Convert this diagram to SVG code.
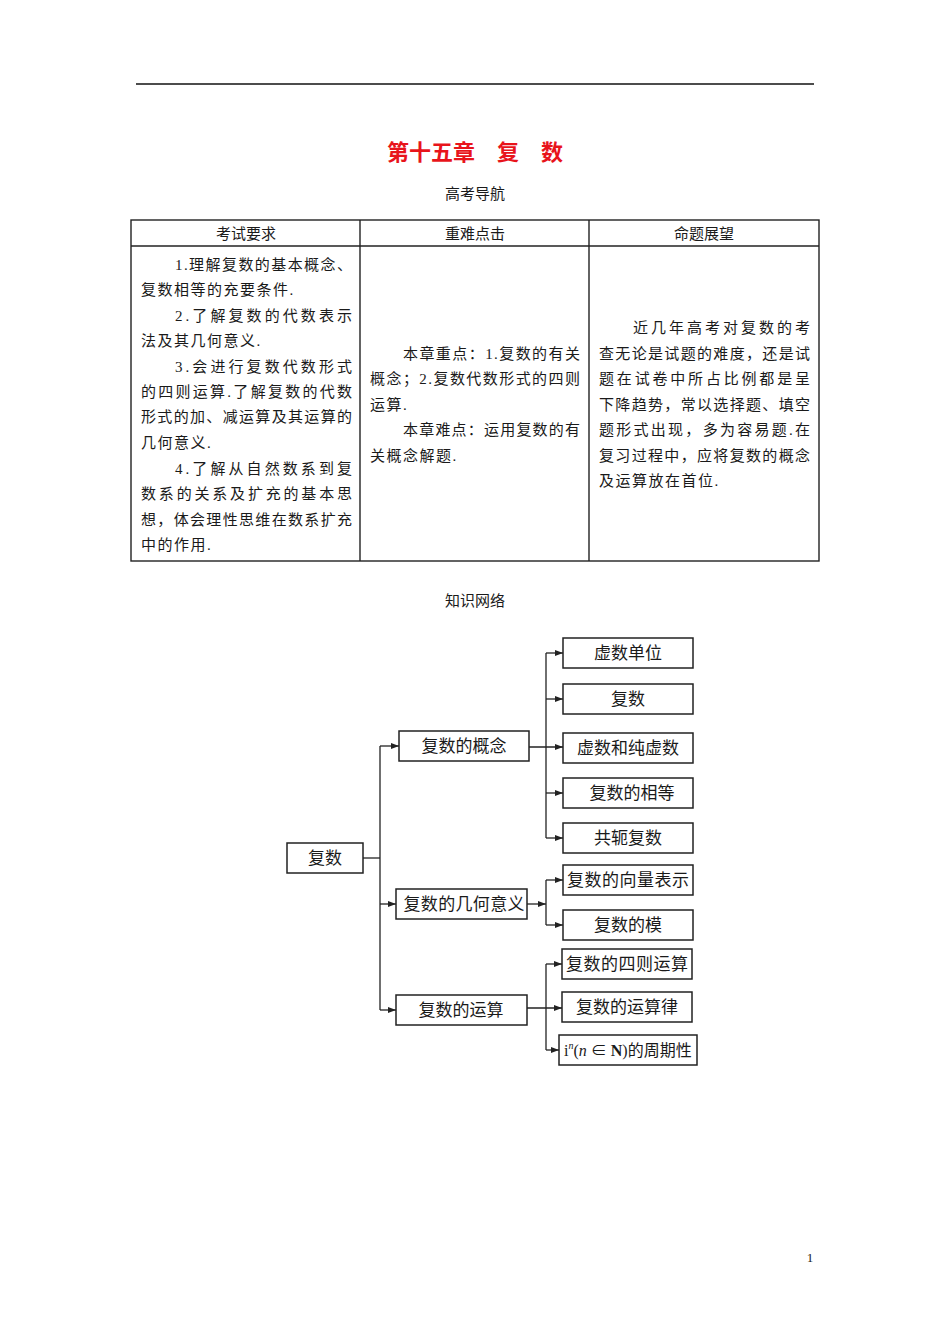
<svg xmlns="http://www.w3.org/2000/svg" width="950" height="1344" viewBox="0 0 950 1344">
<style>
text{font-family:"Liberation Serif","Noto Sans CJK SC",serif;fill:#1a1a1a}
.t{font-size:15px}
.h{font-size:15px;text-anchor:middle}
.n{font-size:17px;text-anchor:middle}
.box{fill:#fff;stroke:#222;stroke-width:1.5}
.ln{fill:none;stroke:#222;stroke-width:1.3}
.tb{fill:none;stroke:#222;stroke-width:1.4}
</style>
<defs>
<marker id="ah" viewBox="0 0 8 6" refX="8" refY="3" markerWidth="8" markerHeight="6" markerUnits="userSpaceOnUse" orient="auto">
<path d="M0,0 L8,3 L0,6 Z" fill="#222"/>
</marker>
</defs>
<rect width="950" height="1344" fill="#fff"/>
<line x1="136" y1="84" x2="814" y2="84" stroke="#111" stroke-width="1.6"/>
<text x="475" y="160" style="font-size:22px;font-weight:bold;fill:#e8141b;text-anchor:middle">第十五章　复　数</text>
<text x="475" y="199" class="h">高考导航</text>

<g id="table">
<rect x="131" y="220" width="688" height="341" class="tb"/>
<line x1="131" y1="246" x2="819" y2="246" class="tb"/>
<line x1="360" y1="220" x2="360" y2="561" class="tb"/>
<line x1="589" y1="220" x2="589" y2="561" class="tb"/>
<text x="246" y="239" class="h">考试要求</text>
<text x="475" y="239" class="h">重难点击</text>
<text x="704" y="239" class="h">命题展望</text>
<g class="t">
<text x="175" y="270" textLength="177" lengthAdjust="spacing">1.理解复数的基本概念、</text>
<text x="141" y="295" letter-spacing="1.5">复数相等的充要条件.</text>
<text x="175" y="321" textLength="177" lengthAdjust="spacing">2.了解复数的代数表示</text>
<text x="141" y="346" letter-spacing="1.5">法及其几何意义.</text>
<text x="175" y="372" textLength="177" lengthAdjust="spacing">3.会进行复数代数形式</text>
<text x="141" y="397" textLength="211" lengthAdjust="spacing">的四则运算.了解复数的代数</text>
<text x="141" y="422" textLength="211" lengthAdjust="spacing">形式的加、减运算及其运算的</text>
<text x="141" y="448" letter-spacing="1.5">几何意义.</text>
<text x="175" y="474" textLength="177" lengthAdjust="spacing">4.了解从自然数系到复</text>
<text x="141" y="499" textLength="211" lengthAdjust="spacing">数系的关系及扩充的基本思</text>
<text x="141" y="525" textLength="211" lengthAdjust="spacing">想，体会理性思维在数系扩充</text>
<text x="141" y="550" letter-spacing="1.5">中的作用.</text>

<text x="403" y="359" textLength="177" lengthAdjust="spacing">本章重点：1.复数的有关</text>
<text x="370" y="384" textLength="210" lengthAdjust="spacing">概念；2.复数代数形式的四则</text>
<text x="370" y="410" letter-spacing="1.5">运算.</text>
<text x="403" y="435" textLength="177" lengthAdjust="spacing">本章难点：运用复数的有</text>
<text x="370" y="461" letter-spacing="1.5">关概念解题.</text>

<text x="633" y="333" textLength="177" lengthAdjust="spacing">近几年高考对复数的考</text>
<text x="599" y="359" textLength="211" lengthAdjust="spacing">查无论是试题的难度，还是试</text>
<text x="599" y="384" textLength="211" lengthAdjust="spacing">题在试卷中所占比例都是呈</text>
<text x="599" y="410" textLength="211" lengthAdjust="spacing">下降趋势，常以选择题、填空</text>
<text x="599" y="435" textLength="211" lengthAdjust="spacing">题形式出现，多为容易题.在</text>
<text x="599" y="461" textLength="211" lengthAdjust="spacing">复习过程中，应将复数的概念</text>
<text x="599" y="486" letter-spacing="1.5">及运算放在首位.</text>
</g>
</g>

<text x="475" y="606" class="h">知识网络</text>

<g id="connectors">
<polyline points="363,858 380,858" class="ln"/>
<line x1="380" y1="746" x2="380" y2="1010" class="ln"/>
<line x1="380" y1="746" x2="399" y2="746" class="ln" marker-end="url(#ah)"/>
<line x1="380" y1="904" x2="396" y2="904" class="ln" marker-end="url(#ah)"/>
<line x1="380" y1="1010" x2="396" y2="1010" class="ln" marker-end="url(#ah)"/>

<line x1="546" y1="653" x2="546" y2="838" class="ln"/>
<line x1="546" y1="653" x2="563" y2="653" class="ln" marker-end="url(#ah)"/>
<line x1="546" y1="699" x2="563" y2="699" class="ln" marker-end="url(#ah)"/>
<line x1="529" y1="747" x2="563" y2="747" class="ln" marker-end="url(#ah)"/>
<line x1="546" y1="793" x2="563" y2="793" class="ln" marker-end="url(#ah)"/>
<line x1="546" y1="838" x2="563" y2="838" class="ln" marker-end="url(#ah)"/>

<line x1="527" y1="904" x2="546" y2="904" class="ln" marker-end="url(#ah)"/>
<line x1="546" y1="880" x2="546" y2="925" class="ln"/>
<line x1="546" y1="880" x2="563" y2="880" class="ln" marker-end="url(#ah)"/>
<line x1="546" y1="925" x2="563" y2="925" class="ln" marker-end="url(#ah)"/>

<line x1="546" y1="964" x2="546" y2="1050" class="ln"/>
<line x1="546" y1="964" x2="562" y2="964" class="ln" marker-end="url(#ah)"/>
<line x1="527" y1="1008" x2="562" y2="1008" class="ln" marker-end="url(#ah)"/>
<line x1="546" y1="1050" x2="559" y2="1050" class="ln" marker-end="url(#ah)"/>
</g>

<g id="n-root"><rect x="287" y="843" width="76" height="30" class="box"/><text x="325" y="864" class="n">复数</text></g>
<g id="n-concept"><rect x="399" y="731" width="130" height="30" class="box"/><text x="464" y="752" class="n">复数的概念</text></g>
<g id="n-geom"><rect x="396" y="889" width="131" height="30" class="box"/><text x="464" y="910" class="n" textLength="121" lengthAdjust="spacing">复数的几何意义</text></g>
<g id="n-op"><rect x="396" y="995" width="131" height="30" class="box"/><text x="461" y="1016" class="n">复数的运算</text></g>

<g id="n-unit"><rect x="563" y="638" width="130" height="30" class="box"/><text x="628" y="659" class="n">虚数单位</text></g>
<g id="n-complex"><rect x="563" y="684" width="130" height="30" class="box"/><text x="628" y="705" class="n">复数</text></g>
<g id="n-imag"><rect x="563" y="733" width="130" height="30" class="box"/><text x="628" y="754" class="n">虚数和纯虚数</text></g>
<g id="n-equal"><rect x="563" y="778" width="130" height="30" class="box"/><text x="632" y="799" class="n">复数的相等</text></g>
<g id="n-conj"><rect x="563" y="823" width="130" height="30" class="box"/><text x="628" y="844" class="n">共轭复数</text></g>
<g id="n-vec"><rect x="563" y="865" width="130" height="30" class="box"/><text x="628" y="886" class="n" textLength="122" lengthAdjust="spacing">复数的向量表示</text></g>
<g id="n-mod"><rect x="563" y="910" width="130" height="30" class="box"/><text x="628" y="931" class="n">复数的模</text></g>
<g id="n-four"><rect x="562" y="949" width="130" height="30" class="box"/><text x="627" y="970" class="n" textLength="122" lengthAdjust="spacing">复数的四则运算</text></g>
<g id="n-law"><rect x="562" y="992" width="130" height="30" class="box"/><text x="627" y="1013" class="n">复数的运算律</text></g>
<g id="n-period"><rect x="559" y="1035" width="138" height="30" class="box"/><text x="564" y="1056" style="font-size:16px">i<tspan dy="-7" style="font-size:10px;font-style:italic">n</tspan><tspan dy="7">(</tspan><tspan style="font-style:italic">n</tspan> ∈ <tspan style="font-weight:bold">N</tspan>)的周期性</text></g>

<text x="810" y="1262" style="font-size:13px;text-anchor:middle">1</text>
</svg>
